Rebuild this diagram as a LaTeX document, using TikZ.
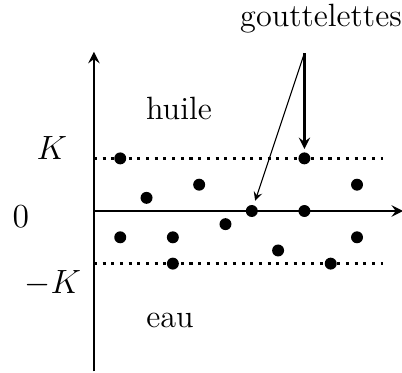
\documentclass[tikz,border=0pt]{standalone}
\usepackage{tikz}
\usetikzlibrary{arrows.meta, positioning, calc}

\begin{document}
\begin{tikzpicture}[>=stealth, x=0.33cm, y=0.33cm,
    every node/.style={font=\fontsize{11.5pt}{14pt}\selectfont},
    drop/.style={circle, fill, inner sep=0pt, minimum size=0.15cm},
    level/.style={line width=1.1pt, dotted}]
    \useasboundingbox (-3.57,-6.12) rectangle (11.71,8.02);

    % Axes
    \coordinate (O) at (0,0);
    \coordinate (Xend) at (11.75,0);
    \coordinate (Ybot) at (0,-6.1);
    \coordinate (Ytop) at (0,6.05);
    \draw[->, line width=0.8pt] (Ybot) -- (Ytop);
    \draw[->, line width=0.8pt] (O) -- (Xend);

    % Levels K and -K
    \coordinate (Kl) at (0,2);
    \coordinate (Kr) at (11,2);
    \coordinate (mKl) at (0,-2);
    \coordinate (mKr) at (11,-2);
    \draw[level] (Kl) -- (Kr);
    \draw[level] (mKl) -- (mKr);

    % Labels
    \node (K) at (-1.6,2.4) {$K$};
    \node (zero) at (-2.78,-0.2) {$0$};
    \node (mK) at (-1.56,-2.74) {$-K$};
    \node (huile) at (3.23,3.9) {huile};
    \node (eau) at (2.89,-4.15) {eau};
    \node (goutte) at (8.63,7.3) {gouttelettes};

    % Droplets
    \node[drop] (d1) at (1,2) {};
    \node[drop] (d2) at (2,0.5) {};
    \node[drop] (d3) at (4,1) {};
    \node[drop] (d4) at (1,-1) {};
    \node[drop] (d5) at (3,-1) {};
    \node[drop] (d6) at (3,-2) {};
    \node[drop] (d7) at (5,-0.5) {};
    \node[drop] (d8) at (6,0) {};
    \node[drop] (d9) at (7,-1.5) {};
    \node[drop] (d10) at (8,2) {};
    \node[drop] (d11) at (8,0) {};
    \node[drop] (d12) at (9,-2) {};
    \node[drop] (d13) at (10,1) {};
    \node[drop] (d14) at (10,-1) {};

    % Pointers
    \coordinate (src) at (8,6);
    \draw[->, line width=0.8pt, shorten >=1pt] (src) -- (d10);
    \draw[->, line width=0.4pt, shorten >=1.5pt] (src) -- (d8);
\end{tikzpicture}
\end{document}
